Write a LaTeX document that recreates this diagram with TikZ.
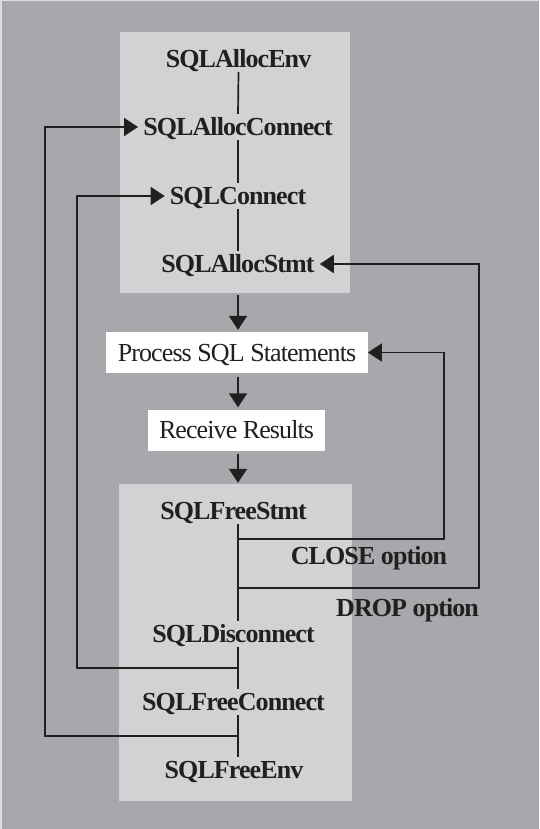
\documentclass[tikz,border=0pt]{standalone}
\usepackage{fontspec}
\setmainfont[LetterSpace=-3.5]{Liberation Serif}
\usetikzlibrary{arrows.meta,calc}
\definecolor{bggray}{HTML}{A7A8AB}
\definecolor{panelgray}{HTML}{D1D2D4}
\definecolor{edgegray}{HTML}{DCDDDE}
\definecolor{ink}{HTML}{231F20}
\tikzset{
  panel/.style={fill=panelgray, draw=none, inner sep=0pt},
  call/.style={font=\fontsize{26}{30}\selectfont\bfseries, text=ink,
    text height=17pt, text depth=0pt, inner xsep=5pt, inner ysep=4.5pt},
  stepbox/.style={fill=white, font=\fontsize{26}{30}\selectfont, text=ink,
    text height=17pt, text depth=0pt, inner xsep=11.5pt, inner ysep=12pt},
  optlabel/.style={font=\fontsize{26}{30}\selectfont\bfseries, text=ink,
    text height=17pt, text depth=0pt, inner sep=0pt},
  link/.style={draw=ink, line width=1.7pt},
  flow/.style={link, -{Triangle[length=14pt,width=18pt]}},
}
\begin{document}
\begin{tikzpicture}[x=1pt,y=-1pt]
  % page background
  \fill[edgegray] (0,0) rectangle (539,829);
  \fill[bggray] (1.5,1.5) rectangle (539,829);
  \useasboundingbox (0,0) rectangle (539,829);

  % shaded panels
  \node[panel, minimum width=230pt, minimum height=261pt] (upper) at (235,162.5) {};
  \node[panel, minimum width=233pt, minimum height=317pt] (lower) at (235.5,642.5) {};

  % allocation calls
  \node[call] (env)     at (238.5,59)  {SQLAllocEnv};
  \node[call] (aconn)   at (238,127)   {SQLAllocConnect};
  \node[call] (connect) at (238,196)   {SQLConnect};
  \node[call] (astmt)   at (238,264)   {SQLAllocStmt};

  % processing steps
  \node[stepbox] (process) at (237,352.5) {Process SQL Statements};
  \node[stepbox] (receive) at (236.5,430) {Receive Results};

  % release calls
  \node[call] (fstmt)   at (233.5,511) {SQLFreeStmt};
  \node[call] (disc)    at (233.5,634) {SQLDisconnect};
  \node[call] (fconn)   at (233.5,702) {SQLFreeConnect};
  \node[call] (fenv)    at (234,770)   {SQLFreeEnv};

  % option labels
  \node[optlabel] (closelbl) at (369,556)   {CLOSE option};
  \node[optlabel] (droplbl)  at (407.5,608) {DROP option};

  % spine of the release sequence and its branch points
  \coordinate (spine) at (238,0);
  \coordinate (jclose) at (238,539);
  \coordinate (jdrop)  at (238,588);
  \coordinate (jdisc)  at (238,668);
  \coordinate (jfconn) at (238,736);

  % allocation sequence
  \draw[link] (env.south) -- (aconn.north);
  \draw[link] (aconn.south) -- (connect.north);
  \draw[link] (connect.south) -- (astmt.north);

  % main flow
  \draw[flow, shorten <=2pt, shorten >=2pt] (upper.south -| spine) -- (process.north -| spine);
  \draw[flow, shorten <=4pt, shorten >=2pt] (process.south -| spine) -- (receive.north -| spine);
  \draw[flow, shorten <=3pt, shorten >=1pt] (receive.south -| spine) -- (lower.north -| spine);

  % release sequence
  \draw[link] (fstmt.south -| spine) -- (disc.north -| spine);
  \draw[link] (disc.south -| spine) -- (fconn.north -| spine);
  \draw[link] (fconn.south -| spine) -- (fenv.north -| spine);

  % loops back
  \draw[flow] (jclose) -| ($(process.east)+(76,0)$) -- (process.east);
  \draw[flow] (jdrop) -| ($(astmt.east)+(159,0)$) -- (astmt.east);
  \draw[flow] (jdisc) -| ($(connect.west)+(-88,0)$) -- (connect.west);
  \draw[flow] (jfconn) -| ($(aconn.west)+(-93,0)$) -- (aconn.west);
\end{tikzpicture}
\end{document}
